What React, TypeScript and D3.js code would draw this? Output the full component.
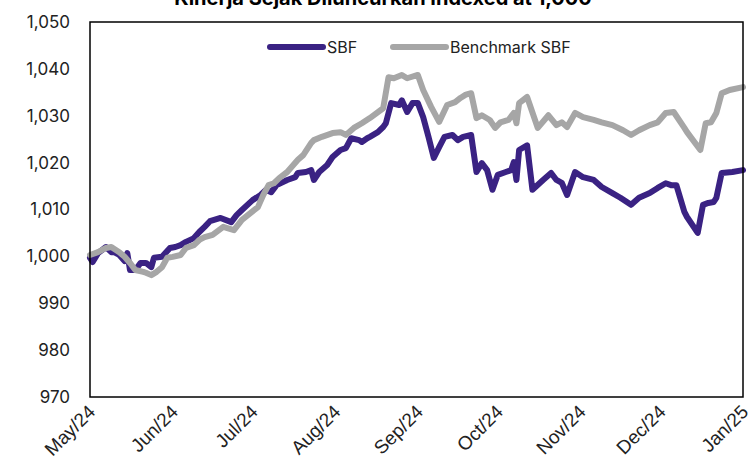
import React, { useEffect, useRef } from 'react';
import * as d3 from 'd3';

const title = 'Kinerja Sejak Diluncurkan Indexed at 1,000';
const seriesNames = ['SBF', 'Benchmark SBF'];
const yTicks = [970, 980, 990, 1000, 1010, 1020, 1030, 1040, 1050];
const xTickDates = ['2024-05-01', '2024-06-01', '2024-07-01', '2024-08-01', '2024-09-01', '2024-10-01', '2024-11-01', '2024-12-01', '2025-01-01'];

const sbfDates = [
  '2024-05-01', '2024-05-02', '2024-05-04', '2024-05-07', '2024-05-09', '2024-05-10', '2024-05-12', '2024-05-14', '2024-05-15', '2024-05-16',
  '2024-05-18', '2024-05-20', '2024-05-22', '2024-05-24', '2024-05-25', '2024-05-28', '2024-05-31', '2024-06-02', '2024-06-04', '2024-06-06',
  '2024-06-09', '2024-06-11', '2024-06-13', '2024-06-15', '2024-06-19', '2024-06-23', '2024-06-25', '2024-06-27', '2024-07-01', '2024-07-04',
  '2024-07-06', '2024-07-08', '2024-07-10', '2024-07-14', '2024-07-17', '2024-07-18', '2024-07-21', '2024-07-23', '2024-07-24', '2024-07-26',
  '2024-07-29', '2024-07-31', '2024-08-03', '2024-08-05', '2024-08-07', '2024-08-10', '2024-08-11', '2024-08-13', '2024-08-14', '2024-08-17',
  '2024-08-19', '2024-08-20', '2024-08-22', '2024-08-25', '2024-08-26', '2024-08-28', '2024-08-30', '2024-09-01', '2024-09-03', '2024-09-05',
  '2024-09-07', '2024-09-09', '2024-09-11', '2024-09-14', '2024-09-16', '2024-09-18', '2024-09-21', '2024-09-23', '2024-09-25', '2024-09-27',
  '2024-09-29', '2024-10-01', '2024-10-04', '2024-10-06', '2024-10-07', '2024-10-08', '2024-10-09', '2024-10-12', '2024-10-14', '2024-10-18',
  '2024-10-21', '2024-10-23', '2024-10-25', '2024-10-27', '2024-10-30', '2024-11-02', '2024-11-06', '2024-11-09', '2024-11-13', '2024-11-16',
  '2024-11-20', '2024-11-23', '2024-11-27', '2024-11-30', '2024-12-03', '2024-12-05', '2024-12-07', '2024-12-10', '2024-12-11', '2024-12-15',
  '2024-12-17', '2024-12-19', '2024-12-21', '2024-12-22', '2024-12-24', '2024-12-28', '2025-01-01',
];
const sbfValues = [
  999.7, 998.8, 1000.7, 1002.0, 1000.9, 1000.9, 1000.3, 999.0, 1000.7, 997.1,
  997.1, 998.6, 998.6, 997.7, 999.7, 999.9, 1001.8, 1002.0, 1002.4, 1003.1,
  1003.9, 1005.2, 1006.3, 1007.5, 1008.2, 1007.3, 1008.8, 1009.9, 1012.0, 1013.1,
  1014.2, 1013.7, 1015.2, 1016.3, 1016.9, 1017.8, 1018.0, 1018.4, 1016.3, 1018.0,
  1019.5, 1021.2, 1022.7, 1023.1, 1025.2, 1024.8, 1024.4, 1025.2, 1025.5, 1026.5,
  1027.6, 1028.4, 1032.7, 1032.3, 1033.3, 1030.8, 1032.7, 1032.7, 1029.7, 1025.5,
  1021.0, 1023.3, 1025.5, 1025.9, 1024.8, 1025.5, 1025.9, 1018.0, 1019.9, 1018.4,
  1014.2, 1017.4, 1018.0, 1018.4, 1020.1, 1016.3, 1022.7, 1023.7, 1014.2, 1016.3,
  1017.8, 1016.3, 1015.7, 1013.1, 1018.0, 1016.9, 1016.3, 1014.8, 1013.5, 1012.5,
  1011.0, 1012.5, 1013.5, 1014.6, 1015.6, 1015.2, 1015.2, 1009.5, 1008.4, 1005.0,
  1011.0, 1011.4, 1011.6, 1012.5, 1017.8, 1018.0, 1018.4,
];

const benchDates = [
  '2024-05-01', '2024-05-04', '2024-05-07', '2024-05-09', '2024-05-12', '2024-05-14', '2024-05-16', '2024-05-18', '2024-05-21', '2024-05-22',
  '2024-05-24', '2024-05-26', '2024-05-28', '2024-05-30', '2024-06-01', '2024-06-04', '2024-06-06', '2024-06-09', '2024-06-11', '2024-06-13',
  '2024-06-16', '2024-06-20', '2024-06-24', '2024-06-27', '2024-07-03', '2024-07-05', '2024-07-07', '2024-07-09', '2024-07-11', '2024-07-14',
  '2024-07-18', '2024-07-20', '2024-07-23', '2024-07-24', '2024-07-27', '2024-07-31', '2024-08-03', '2024-08-05', '2024-08-08', '2024-08-11',
  '2024-08-14', '2024-08-19', '2024-08-21', '2024-08-23', '2024-08-26', '2024-08-28', '2024-09-01', '2024-09-03', '2024-09-06', '2024-09-09',
  '2024-09-12', '2024-09-15', '2024-09-17', '2024-09-19', '2024-09-21', '2024-09-23', '2024-09-25', '2024-09-28', '2024-09-30', '2024-10-02',
  '2024-10-05', '2024-10-07', '2024-10-08', '2024-10-09', '2024-10-12', '2024-10-16', '2024-10-20', '2024-10-23', '2024-10-25', '2024-10-27',
  '2024-10-30', '2024-11-02', '2024-11-06', '2024-11-09', '2024-11-13', '2024-11-17', '2024-11-20', '2024-11-23', '2024-11-27', '2024-11-30',
  '2024-12-03', '2024-12-06', '2024-12-10', '2024-12-11', '2024-12-16', '2024-12-18', '2024-12-20', '2024-12-22', '2024-12-24', '2024-12-27',
  '2025-01-01',
];
const benchValues = [
  1000.3, 1000.9, 1001.8, 1002.0, 1000.9, 999.9, 998.6, 997.1, 996.7, 996.5,
  996.0, 996.7, 997.7, 999.7, 999.9, 1000.3, 1001.8, 1002.4, 1003.5, 1004.1,
  1004.6, 1006.3, 1005.6, 1007.8, 1010.5, 1013.1, 1015.2, 1015.6, 1016.7, 1018.0,
  1020.6, 1021.6, 1024.2, 1024.8, 1025.5, 1026.3, 1026.5, 1025.9, 1027.4, 1028.4,
  1029.5, 1031.6, 1038.2, 1038.0, 1038.7, 1038.0, 1038.7, 1035.5, 1031.9, 1028.7,
  1032.3, 1032.9, 1033.8, 1034.5, 1034.8, 1029.5, 1030.1, 1029.1, 1027.4, 1028.6,
  1029.1, 1030.6, 1028.4, 1032.7, 1034.0, 1027.4, 1030.1, 1028.0, 1028.6, 1027.6,
  1030.6, 1029.7, 1029.1, 1028.6, 1028.0, 1026.9, 1025.9, 1026.9, 1028.0, 1028.6,
  1030.6, 1030.8, 1027.4, 1026.5, 1022.7, 1028.4, 1028.6, 1030.6, 1034.8, 1035.5,
  1036.1,
];

const colors = ['#3a2283', '#a6a6a6'];

export default function App() {
  const svgRef = useRef(null);

  useEffect(() => {
    const width = 756;
    const height = 473;
    const margin = { top: 22, right: 13, bottom: 76, left: 90 };
    const font = 'Inter, "Noto Sans", sans-serif';

    const svg = d3.select(svgRef.current);
    svg.selectAll('*').remove();
    svg.attr('width', width).attr('height', height);

    const parse = d3.timeParse('%Y-%m-%d');
    const fmt = d3.timeFormat('%b/%y');

    const x = d3.scaleTime()
      .domain([parse(xTickDates[0]), parse(xTickDates[xTickDates.length - 1])])
      .range([margin.left, width - margin.right]);
    const y = d3.scaleLinear()
      .domain([970, 1050])
      .range([height - margin.bottom, margin.top]);

    // title (cut by the top of the page, same as the original)
    svg.append('text')
      .attr('x', 383)
      .attr('y', 5)
      .attr('text-anchor', 'middle')
      .attr('font-family', font)
      .attr('font-weight', 700)
      .attr('font-size', 20)
      .attr('fill', '#000')
      .text(title);

    // y labels
    const yAxis = svg.append('g')
      .attr('transform', `translate(${margin.left},0)`)
      .call(d3.axisLeft(y).tickValues(yTicks).tickSize(0).tickPadding(20).tickFormat(d3.format(',')))
      .attr('font-family', font)
      .attr('font-size', 17);
    yAxis.select('.domain').remove();
    yAxis.selectAll('text').attr('fill', '#222');

    // x labels, rotated
    const xAxis = svg.append('g')
      .attr('transform', `translate(0,${height - margin.bottom})`)
      .call(d3.axisBottom(x).tickValues(xTickDates.map(parse)).tickSize(0).tickFormat(fmt))
      .attr('font-family', '"Liberation Sans", Arial, sans-serif')
      .attr('font-size', 19);
    xAxis.select('.domain').remove();
    xAxis.selectAll('text')
      .attr('text-anchor', 'end')
      .attr('dy', 0)
      .attr('y', 0)
      .attr('transform', 'translate(6,16) rotate(-45)')
      .attr('fill', '#222');

    const line = d3.line()
      .x(d => x(d.date))
      .y(d => y(d.value));

    const sbf = sbfDates.map((d, i) => ({ date: parse(d), value: sbfValues[i] }));
    const bench = benchDates.map((d, i) => ({ date: parse(d), value: benchValues[i] }));

    [sbf, bench].forEach((data, i) => {
      svg.append('path')
        .datum(data)
        .attr('d', line)
        .attr('fill', 'none')
        .attr('stroke', colors[i])
        .attr('stroke-width', 6)
        .attr('stroke-linejoin', 'round')
        .attr('stroke-linecap', 'round');
    });

    // frame
    svg.append('rect')
      .attr('x', margin.left)
      .attr('y', margin.top)
      .attr('width', width - margin.left - margin.right)
      .attr('height', height - margin.top - margin.bottom)
      .attr('fill', 'none')
      .attr('stroke', '#000')
      .attr('stroke-width', 1.5);

    // legend
    const legendItems = [
      { name: seriesNames[0], x0: 270, color: colors[0] },
      { name: seriesNames[1], x0: 393, color: colors[1] },
    ];
    const lg = svg.append('g');
    legendItems.forEach(item => {
      lg.append('line')
        .attr('x1', item.x0)
        .attr('x2', item.x0 + 53)
        .attr('y1', 47)
        .attr('y2', 47)
        .attr('stroke', item.color)
        .attr('stroke-width', 6)
        .attr('stroke-linecap', 'round');
      lg.append('text')
        .attr('x', item.x0 + 57)
        .attr('y', 47)
        .attr('dy', '0.35em')
        .attr('font-family', font)
        .attr('font-size', 16)
        .attr('fill', '#222')
        .text(item.name);
    });
  }, []);

  return <svg ref={svgRef} style={{ position: 'absolute', left: 0, top: 0 }} />;
}
